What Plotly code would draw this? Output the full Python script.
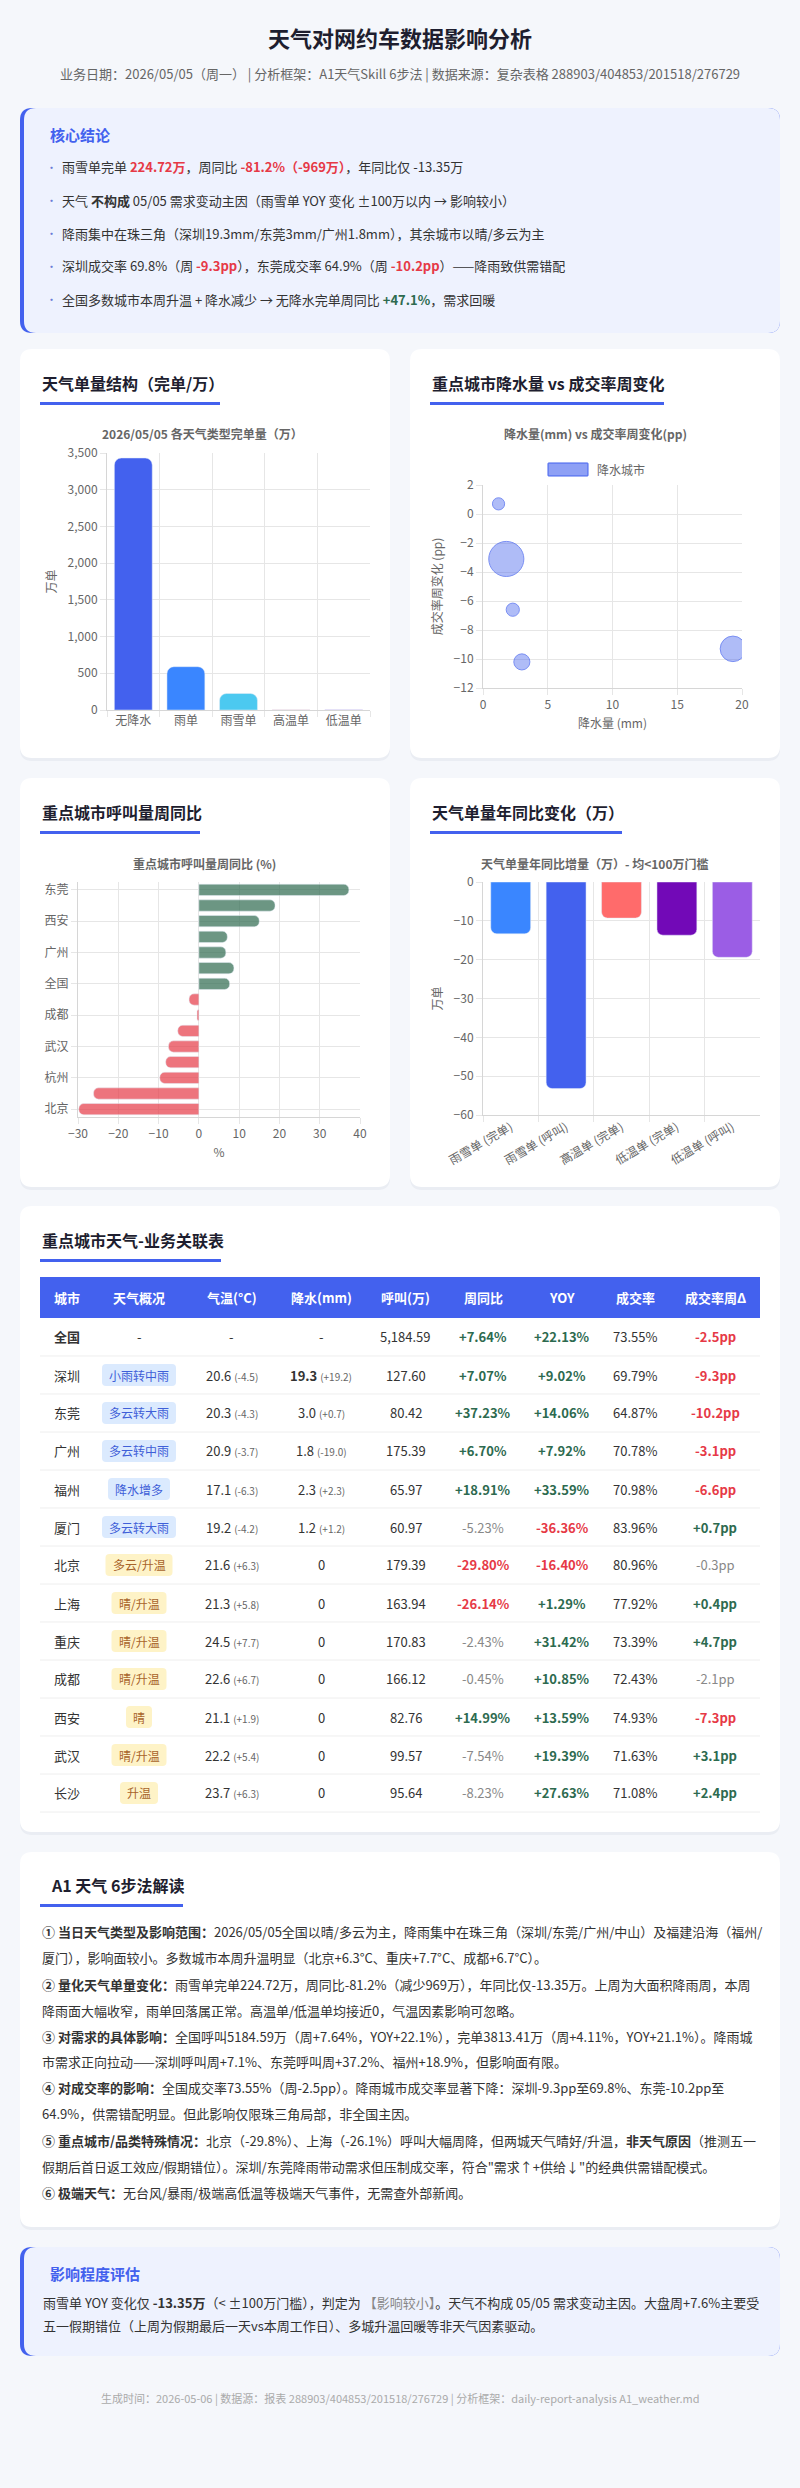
import plotly.graph_objects as go

W, H = 800, 2488
FONT = "Noto Sans CJK SC, Noto Sans, sans-serif"
BLUE = '#4361EE'
GREEN, RED, GRAY = '#2D6A4F', '#E63946', '#888888'

# ---- 天气单量结构 ----
weather_types = ['无降水', '雨单', '雨雪单', '高温单', '低温单']
weather_orders = [3432, 590, 224.72, 3.2, 2.1]
weather_colors = ['#4361EE', '#3A86FF', '#4CC9F0', '#FF8FA3', '#9B5DE5']

# ---- 降水量 vs 成交率周变化 ----
rain_cities = ['深圳', '东莞', '广州', '福州', '厦门']
rain_mm = [19.3, 3.0, 1.8, 2.3, 1.2]
rain_rate_delta = [-9.3, -10.2, -3.1, -6.6, 0.7]
rain_calls = [127.60, 80.42, 175.39, 65.97, 60.97]

# ---- 呼叫量周同比 ----
call_cities = ['东莞', '福州', '西安', '深圳', '广州', '中山', '全国', '重庆',
               '成都', '厦门', '武汉', '长沙', '杭州', '上海', '北京']
call_wow = [37.23, 18.91, 14.99, 7.07, 6.70, 8.7, 7.64, -2.43,
            -0.45, -5.23, -7.54, -8.23, -9.7, -26.14, -29.80]

# ---- 年同比增量 ----
yoy_types = ['雨雪单 (完单)', '雨雪单 (呼叫)', '高温单 (完单)', '低温单 (完单)', '低温单 (呼叫)']
yoy_delta = [-13.35, -53.2, -9.3, -13.7, -19.4]
yoy_colors = ['#3A86FF', '#4361EE', '#FF6B6B', '#7209B7', '#9B5DE5']

# ---- 关联表 ----
table_header = ['城市', '天气概况', '气温(°C)', '降水(mm)', '呼叫(万)', '周同比', 'YOY', '成交率', '成交率周Δ']
table_cities = ['全国', '深圳', '东莞', '广州', '福州', '厦门', '北京', '上海', '重庆', '成都', '西安', '武汉', '长沙']
table_weather = ['-', '小雨转中雨', '多云转大雨', '多云转中雨', '降水增多', '多云转大雨',
                 '多云/升温', '晴/升温', '晴/升温', '晴/升温', '晴', '晴/升温', '升温']
table_rainy = [None, True, True, True, True, True, False, False, False, False, False, False, False]
table_temp = [None, 20.6, 20.3, 20.9, 17.1, 19.2, 21.6, 21.3, 24.5, 22.6, 21.1, 22.2, 23.7]
table_temp_delta = [None, -4.5, -4.3, -3.7, -6.3, -4.2, 6.3, 5.8, 7.7, 6.7, 1.9, 5.4, 6.3]
table_precip = [None, 19.3, 3.0, 1.8, 2.3, 1.2, 0, 0, 0, 0, 0, 0, 0]
table_precip_delta = [None, 19.2, 0.7, -19.0, 2.3, 1.2, None, None, None, None, None, None, None]
table_calls = [5184.59, 127.60, 80.42, 175.39, 65.97, 60.97, 179.39, 163.94, 170.83, 166.12, 82.76, 99.57, 95.64]
table_wow = [7.64, 7.07, 37.23, 6.70, 18.91, -5.23, -29.80, -26.14, -2.43, -0.45, 14.99, -7.54, -8.23]
table_yoy = [22.13, 9.02, 14.06, 7.92, 33.59, -36.36, -16.40, 1.29, 31.42, 10.85, 13.59, 19.39, 27.63]
table_rate = [73.55, 69.79, 64.87, 70.78, 70.98, 83.96, 80.96, 77.92, 73.39, 72.43, 74.93, 71.63, 71.08]
table_rate_delta = [-2.5, -9.3, -10.2, -3.1, -6.6, 0.7, -0.3, 0.4, 4.7, -2.1, -7.3, 3.1, 2.4]

# ---- 文本 ----
core_points = [
    f'雨雪单完单 <b><span style="color:{RED}">224.72万</span></b>，周同比 <b><span style="color:{RED}">-81.2%（-969万）</span></b>，年同比仅 -13.35万',
    '天气 <b>不构成</b> 05/05 需求变动主因（雨雪单 YOY 变化 ±100万以内 → 影响较小）',
    '降雨集中在珠三角（深圳19.3mm/东莞3mm/广州1.8mm），其余城市以晴/多云为主',
    f'深圳成交率 69.8%（周 <b><span style="color:{RED}">-9.3pp</span></b>），东莞成交率 64.9%（周 <b><span style="color:{RED}">-10.2pp</span></b>）——降雨致供需错配',
    f'全国多数城市本周升温 + 降水减少 → 无降水完单周同比 <b><span style="color:{GREEN}">+47.1%</span></b>，需求回暖',
]
a1_lines = [
    '<b>① 当日天气类型及影响范围：</b>2026/05/05全国以晴/多云为主，降雨集中在珠三角（深圳/东莞/广州/中山）及福建沿海（福州/',
    '厦门），影响面较小。多数城市本周升温明显（北京+6.3°C、重庆+7.7°C、成都+6.7°C）。',
    '<b>② 量化天气单量变化：</b>雨雪单完单224.72万，周同比-81.2%（减少969万），年同比仅-13.35万。上周为大面积降雨周，本周',
    '降雨面大幅收窄，雨单回落属正常。高温单/低温单均接近0，气温因素影响可忽略。',
    '<b>③ 对需求的具体影响：</b>全国呼叫5184.59万（周+7.64%，YOY+22.1%），完单3813.41万（周+4.11%，YOY+21.1%）。降雨城',
    '市需求正向拉动——深圳呼叫周+7.1%、东莞呼叫周+37.2%、福州+18.9%，但影响面有限。',
    '<b>④ 对成交率的影响：</b>全国成交率73.55%（周-2.5pp）。降雨城市成交率显著下降：深圳-9.3pp至69.8%、东莞-10.2pp至',
    '64.9%，供需错配明显。但此影响仅限珠三角局部，非全国主因。',
    '<b>⑤ 重点城市/品类特殊情况：</b>北京（-29.8%）、上海（-26.1%）呼叫大幅周降，但两城天气晴好/升温，<b>非天气原因</b>（推测五一',
    '假期后首日返工效应/假期错位）。深圳/东莞降雨带动需求但压制成交率，符合"需求↑+供给↓"的经典供需错配模式。',
    '<b>⑥ 极端天气：</b>无台风/暴雨/极端高低温等极端天气事件，无需查外部新闻。',
]
impact_lines = [
    '雨雪单 YOY 变化仅 <b>-13.35万</b>（&lt; ±100万门槛），判定为 <span style="color:#888">【影响较小】</span>。天气不构成 05/05 需求变动主因。大盘周+7.6%主要受',
    '五一假期错位（上周为假期最后一天vs本周工作日）、多城升温回暖等非天气因素驱动。',
]


def X(x):
    return round(x / W, 6)


def Y(y):
    return round(1 - y / H, 6)


shapes = []
annotations = []


def rect(x0, y0, x1, y1, fill):
    shapes.append(dict(type='rect', xref='paper', yref='paper', x0=X(x0), x1=X(x1),
                       y0=Y(y1), y1=Y(y0), fillcolor=fill, line=dict(width=0), layer='below'))


def rrect(x0, y0, x1, y1, r, fill, line_color=None):
    p = (f'M{X(x0 + r)},{Y(y0)} L{X(x1 - r)},{Y(y0)} Q{X(x1)},{Y(y0)} {X(x1)},{Y(y0 + r)} '
         f'L{X(x1)},{Y(y1 - r)} Q{X(x1)},{Y(y1)} {X(x1 - r)},{Y(y1)} '
         f'L{X(x0 + r)},{Y(y1)} Q{X(x0)},{Y(y1)} {X(x0)},{Y(y1 - r)} '
         f'L{X(x0)},{Y(y0 + r)} Q{X(x0)},{Y(y0)} {X(x0 + r)},{Y(y0)} Z')
    shapes.append(dict(type='path', xref='paper', yref='paper', path=p, fillcolor=fill,
                       line=dict(width=1 if line_color else 0, color=line_color or fill), layer='below'))


def hline(x0, x1, y, color='#eeeeee'):
    shapes.append(dict(type='line', xref='paper', yref='paper', x0=X(x0), x1=X(x1), y0=Y(y), y1=Y(y),
                       line=dict(color=color, width=1), layer='below'))


def txt(x, y, s, size=13, color='#333333', anchor='left'):
    annotations.append(dict(x=X(x), y=Y(y), xref='paper', yref='paper', text=s, showarrow=False,
                            xanchor=anchor, yanchor='middle', font=dict(size=size, color=color, family=FONT)))


def card(x0, y0, x1, y1):
    rrect(x0, y0 + 2, x1, y1 + 3, 12, 'rgba(40,50,90,0.05)')
    rrect(x0, y0, x1, y1, 12, 'white')


def card_title(x, y, s, underline_w):
    txt(x, y, f'<b>{s}</b>', 16, '#1e1e2f')
    rect(x, y + 19, x + underline_w, y + 22, BLUE)


def note_box(y0, y1):
    rrect(20, y0, 780, y1, 12, BLUE)
    rrect(24, y0, 780, y1, 12, '#EEF2FE')


# ---- 页头 ----
txt(400, 37, '<b>天气对网约车数据影响分析</b>', 22, '#1e1e2f', 'center')
txt(400, 73, '业务日期：2026/05/05（周一） | 分析框架：A1天气Skill 6步法 | 数据来源：复杂表格 288903/404853/201518/276729',
    13, '#666666', 'center')

# ---- 核心结论 ----
note_box(108, 333)
txt(48, 135, '<b>核心结论</b>', 15, BLUE)
for i, s in enumerate(core_points):
    yy = 167 + 33 * i
    txt(44, yy, '•', 11, '#6B7BD6')
    txt(60, yy, s, 13, '#333333')

# ---- 图表卡片 ----
card(20, 349, 390, 758)
card(410, 349, 780, 758)
card(20, 778, 390, 1187)
card(410, 778, 780, 1187)
card_title(40, 383, '天气单量结构（完单/万）', 180)
card_title(430, 383, '重点城市降水量 vs 成交率周变化', 234)
card_title(40, 812, '重点城市呼叫量周同比', 160)
card_title(430, 812, '天气单量年同比变化（万）', 192)
txt(202, 434, '<b>2026/05/05 各天气类型完单量（万）</b>', 12, '#666666', 'center')
txt(595, 434, '<b>降水量(mm) vs 成交率周变化(pp)</b>', 12, '#666666', 'center')
txt(205, 863, '<b>重点城市呼叫量周同比 (%)</b>', 12, '#666666', 'center')
txt(595, 863, '<b>天气单量年同比增量（万）- 均&lt;100万门槛</b>', 12, '#666666', 'center')
# 散点图图例
rrect(548, 463, 588, 476, 0.5, 'rgba(67,97,238,0.6)', BLUE)
txt(595, 469, '降水城市', 12, '#666666')

# ---- 关联表 ----
card(20, 1206, 780, 1832)
card_title(40, 1240, '重点城市天气-业务关联表', 181)
col_x = [52, 139, 232, 321, 406, 483, 562, 635, 715]
head_top, head_h, row_h = 1277, 41, 38
rect(40, head_top, 760, head_top + head_h, BLUE)
for j, h in enumerate(table_header):
    txt(col_x[j], head_top + head_h / 2, f'<b>{h}</b>', 13, 'white', 'left' if j == 0 else 'center')

SMALL = '<span style="font-size:10px;color:#666">({:+.1f})</span>'


def pct_cell(v):
    s = f'{v:+.2f}%'
    if v > 0:
        return f'<b>{s}</b>', GREEN
    if v <= -10:
        return f'<b>{s}</b>', RED
    return s, GRAY


def pp_cell(v):
    s = f'{v:+.1f}pp'
    if v > 0:
        return f'<b>{s}</b>', GREEN
    if v <= -2.5:
        return f'<b>{s}</b>', RED
    return s, GRAY


for i, city in enumerate(table_cities):
    top = head_top + head_h + row_h * i
    cy = top + row_h / 2
    hline(40, 760, top + row_h)
    txt(col_x[0], cy, f'<b>{city}</b>' if i == 0 else city, 13, '#333333')
    # 天气概况徽标
    wtxt = table_weather[i]
    if table_rainy[i] is None:
        txt(col_x[1], cy, wtxt, 13, '#333333', 'center')
    else:
        bw = sum(5 if ch == '/' else 12 for ch in wtxt) + 14
        bg, fg = ('#DBEAFE', '#3F5FD8') if table_rainy[i] else ('#FEF3C7', '#A8632A')
        rrect(col_x[1] - bw / 2, cy - 11, col_x[1] + bw / 2, cy + 11, 4, bg)
        txt(col_x[1], cy, wtxt, 12, fg, 'center')
    # 气温
    if table_temp[i] is None:
        txt(col_x[2], cy, '-', 13, '#333333', 'center')
    else:
        txt(col_x[2], cy, f'{table_temp[i]:.1f} ' + SMALL.format(table_temp_delta[i]), 13, '#333333', 'center')
    # 降水
    p = table_precip[i]
    if p is None:
        ptxt = '-'
    elif p == 0:
        ptxt = '0'
    else:
        ptxt = f'<b>{p:.1f}</b>' if p >= 10 else f'{p:.1f}'
        ptxt += ' ' + SMALL.format(table_precip_delta[i])
    txt(col_x[3], cy, ptxt, 13, '#333333', 'center')
    txt(col_x[4], cy, f'{table_calls[i]:,.2f}', 13, '#333333', 'center')
    s, c = pct_cell(table_wow[i])
    txt(col_x[5], cy, s, 13, c, 'center')
    s, c = pct_cell(table_yoy[i])
    txt(col_x[6], cy, s, 13, c, 'center')
    txt(col_x[7], cy, f'{table_rate[i]:.2f}%', 13, '#333333', 'center')
    s, c = pp_cell(table_rate_delta[i])
    txt(col_x[8], cy, s, 13, c, 'center')

# ---- A1 6步法解读 ----
card(20, 1852, 780, 2227)
txt(49, 1885, '<b>A1 天气 6步法解读</b>', 16, '#1e1e2f')
rect(40, 1904, 183, 1907, BLUE)
for i, s in enumerate(a1_lines):
    txt(40, 1932 + 26 * i, s, 13, '#333333')

# ---- 影响程度评估 ----
note_box(2247, 2356)
txt(48, 2274, '<b>影响程度评估</b>', 15, BLUE)
for i, s in enumerate(impact_lines):
    txt(41, 2303 + 23 * i, s, 13, '#333333')

txt(400, 2398, '生成时间：2026-05-06 | 数据源：报表 288903/404853/201518/276729 | 分析框架：daily-report-analysis A1_weather.md',
    11, '#aaaaaa', 'center')

# ---- 图表 ----
fig = go.Figure()
fig.add_trace(go.Bar(x=weather_types, y=weather_orders, xaxis='x', yaxis='y',
                     marker=dict(color=weather_colors, cornerradius=7), showlegend=False))
fig.add_trace(go.Scatter(x=rain_mm, y=rain_rate_delta, text=rain_cities, mode='markers',
                         xaxis='x2', yaxis='y2', showlegend=False,
                         marker=dict(size=rain_calls, sizemode='diameter', sizeref=5,
                                     color='rgba(67,97,238,0.6)', line=dict(color=BLUE, width=1))))
call_colors = ['rgba(45,106,79,0.7)' if v >= 0 else 'rgba(230,57,70,0.7)' for v in call_wow]
fig.add_trace(go.Bar(x=call_wow, y=call_cities, orientation='h', xaxis='x3', yaxis='y3',
                     marker=dict(color=call_colors, cornerradius=5), showlegend=False))
fig.add_trace(go.Bar(x=yoy_types, y=yoy_delta, xaxis='x4', yaxis='y4',
                     marker=dict(color=yoy_colors, cornerradius=6), showlegend=False))


def axis(domain, anchor, **kw):
    d = dict(domain=domain, anchor=anchor, showgrid=True, gridcolor='#e6e6e6', zeroline=False,
             showline=True, linecolor='#d6d6d6', ticks='outside', ticklen=6, tickcolor='#e6e6e6',
             tickfont=dict(size=12, color='#666666'), automargin=False)
    d.update(kw)
    return d


def atitle(s):
    return dict(text=s, font=dict(size=12, color='#666666'), standoff=8)


fig.update_layout(
    width=W, height=H, margin=dict(l=0, r=0, t=0, b=0),
    paper_bgcolor='#F5F7FB', plot_bgcolor='rgba(0,0,0,0)',
    font=dict(family=FONT, color='#333333'),
    bargap=0.28, showlegend=False, hovermode=False,
    xaxis=axis([X(107), X(370)], 'y', type='category', tickson='boundaries'),
    yaxis=axis([Y(710), Y(453)], 'x', range=[0, 3500], dtick=500, tickformat=',', title=atitle('万单')),
    xaxis2=axis([X(483), X(742)], 'y2', range=[0, 20], dtick=5, title=atitle('降水量 (mm)')),
    yaxis2=axis([Y(688), Y(485)], 'x2', range=[-12, 2], dtick=2, title=atitle('成交率周变化 (pp)')),
    xaxis3=axis([X(78), X(360)], 'y3', range=[-30, 40], dtick=10, title=atitle('%')),
    yaxis3=axis([Y(1117), Y(882)], 'x3', type='category', autorange='reversed',
                tickmode='array', tickvals=call_cities[::2]),
    xaxis4=axis([X(483), X(760)], 'y4', type='category', tickson='boundaries', tickangle=-30),
    yaxis4=axis([Y(1115), Y(882)], 'x4', range=[-60, 0], dtick=10, title=atitle('万单')),
    shapes=shapes, annotations=annotations,
)

fig.write_html("out.html", config={'displayModeBar': False},
               post_script="document.body.style.margin='0';")
